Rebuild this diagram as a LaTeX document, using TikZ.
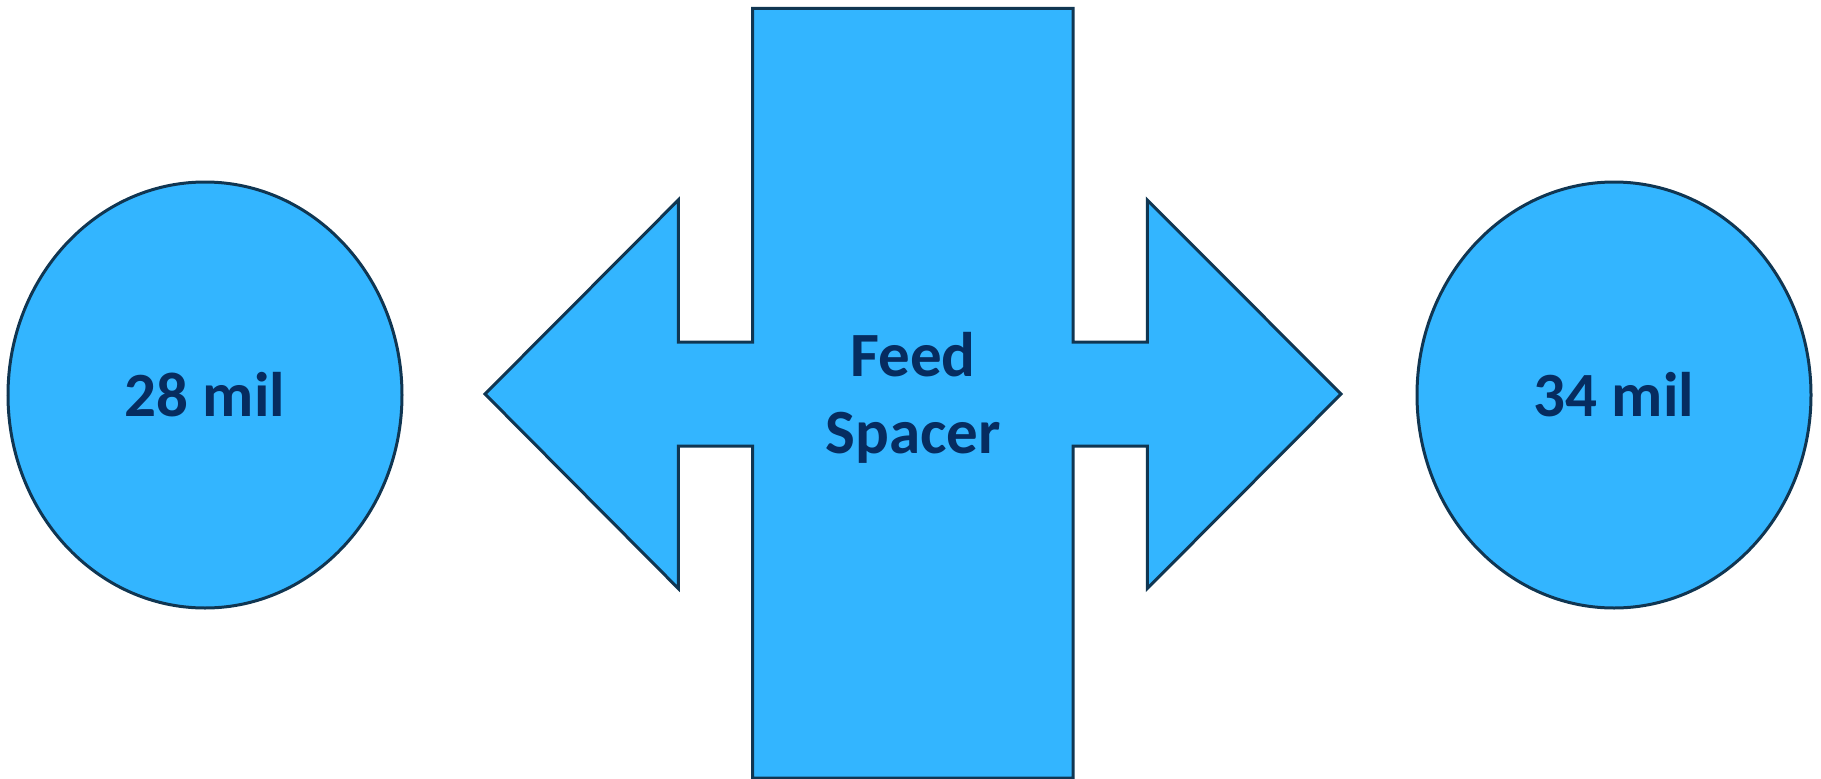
\documentclass[tikz,border=0pt]{standalone}
\usepackage{fontspec}
\setmainfont{Carlito}
\usetikzlibrary{shapes.geometric}
\definecolor{shapefill}{RGB}{51,181,255}
\definecolor{shapeline}{RGB}{16,54,82}
\definecolor{labeltext}{RGB}{6,44,96}
\tikzset{
  blobshape/.style={draw=shapeline, fill=shapefill, line width=3pt},
  roundblob/.style={blobshape, ellipse, minimum width=394pt, minimum height=426pt, inner sep=0pt},
  labelfont/.style={text=labeltext, font=\fontsize{63}{77}\selectfont\bfseries}
}
\begin{document}
\begin{tikzpicture}[x=1pt,y=-1pt]
\useasboundingbox (0,0) rectangle (1821,779);
% central cross-shaped double arrow
\draw[blobshape]
  (752.6,8.4) -- (1073,8.4) -- (1073,342) -- (1147.3,342) -- (1147.3,200)
  -- (1341,394) -- (1147.3,588.5) -- (1147.3,446) -- (1073,446) -- (1073,778)
  -- (752.6,778) -- (752.6,446) -- (678.3,446) -- (678.3,588.5) -- (485,394)
  -- (678.3,200) -- (678.3,342) -- (752.6,342) -- cycle;
\node[labelfont, align=center, inner sep=0pt] (spacer) at (913,398) {Feed\\Spacer};
% side circles
\node[roundblob, labelfont] (left) at (205,395) {28 mil};
\node[roundblob, labelfont] (right) at (1614,395) {34 mil};
\end{tikzpicture}
\end{document}
